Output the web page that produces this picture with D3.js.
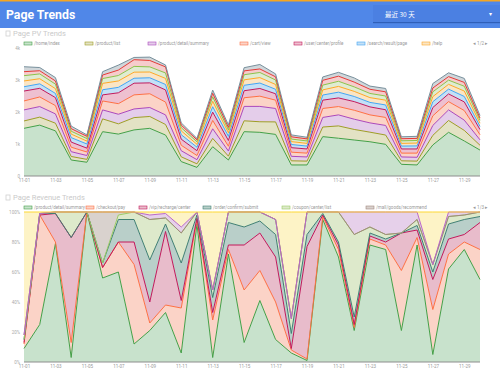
<!DOCTYPE html>
<html><head><meta charset="utf-8">
<script src="https://cdn.jsdelivr.net/npm/d3@7"></script>
<style>
html,body{margin:0;padding:0;background:#fff;width:500px;height:380px;overflow:hidden;font-family:Roboto,"Noto Sans",sans-serif}
</style></head><body>
<svg id="c" width="500" height="380"></svg>
<script>
// ---------- data ----------
const dates = ["11-01","11-02","11-03","11-04","11-05","11-06","11-07","11-08","11-09","11-10",
  "11-11","11-12","11-13","11-14","11-15","11-16","11-17","11-18","11-19","11-20",
  "11-21","11-22","11-23","11-24","11-25","11-26","11-27","11-28","11-29","11-30"];
const xTickLabels = dates.filter((d,i)=>i%2===0);

const pvNames = ["/home/index","/product/list","/product/detail/summary","/cart/view","/user/center/profile","/search/result/page","/help","/order/list","/news/detail","/about"];
const pvColors = ["#43a047","#9e9d24","#ab47bc","#ff7043","#c2185b","#42a5f5","#ffa726","#8bc34a","#e53935","#78909c"];
const pvFills  = ["#c8e2cc","#e3e2c4","#e4cdea","#fbd3c7","#eec0d0","#c4e0f6","#fbe5c4","#dfecd2","#f6cccc","#d0d7db"];
const pvHome    = [1490,1590,1410,500,430,1385,1310,1440,1490,1280,450,270,915,500,1385,1365,1300,345,345,1230,1180,1125,1070,990,365,345,970,1365,1095,810];
const pvList    = [230,250,240,110,90,400,320,385,370,330,150,110,260,120,340,330,390,130,120,300,385,330,300,290,110,120,300,370,330,150];
const pvDetail  = [345,330,290,150,120,280,300,270,280,300,190,130,300,160,450,480,420,140,130,300,345,320,290,300,120,120,310,330,320,170];
const pvCart    = [280,300,260,140,110,280,330,440,430,400,170,130,260,150,270,320,260,130,120,280,260,280,250,250,120,130,300,260,300,160];
const pvUser    = [310,270,250,160,120,190,340,365,340,380,190,150,260,180,220,240,200,140,130,260,270,270,250,240,130,130,260,240,270,160];
const pvSearch  = [135,140,130,140,130,160,170,155,160,170,140,110,170,130,170,170,140,100,90,160,180,160,140,150,90,95,180,150,170,100];
const pvHelp    = [180,160,150,110,90,200,200,190,180,190,120,90,170,110,170,170,150,90,85,160,180,160,150,150,85,90,160,150,170,100];
const pvOrder   = [165,150,140,90,80,150,170,180,160,170,100,80,140,90,160,160,140,80,75,150,160,140,130,130,80,80,150,130,150,90];
const pvNews    = [125,100,100,80,70,110,170,210,200,190,80,60,110,80,120,110,100,70,65,150,160,150,130,130,65,65,120,110,120,70];
const pvAbout   = [155,100,105,80,45,105,155,70,105,60,70,45,100,75,100,140,90,60,50,105,120,130,100,105,60,65,140,120,125,80];
const pvSeries = [pvHome,pvList,pvDetail,pvCart,pvUser,pvSearch,pvHelp,pvOrder,pvNews,pvAbout];
const pvTicks = [0,1000,2000,3000,4000];
const pvTickLabels = ["0","1k","2k","3k","4k"];

const revNames = ["/product/detail/summary","/checkout/pay","/vip/recharge/center","/order/confirm/submit","/coupon/center/list","/mall/goods/recommend","/live/room","/ads/landing"];
const revColors = ["#43a047","#ff7043","#c2185b","#3f7f73","#9ccc65","#a1887f","#ba68c8","#fdd835"];
const revFills  = ["#c8e2cc","#fbd3c7","#e8bccb","#b9cfc9","#dde9cb","#d9d2ce","#e6d0ea","#fdf3c6"];
const revA = [9,25,79,3,100,56,60,12,21,33,6,92,3,72,13,41,15,6,1,95,70,21,78,75,21,78,5,62,75,55];
const revB = [3,73,1,10,0,7,20,53,5,5,30,3,25,3,35,20,25,2,1,2,5,2,4,3,40,5,30,10,5,20];
const revC = [1,0,19,70,0,0,0,15,14,49,5,1,5,3,30,25,30,1,75,1,3,2,2,2,25,5,20,10,5,18];
const revD = [2,1,0,0,0,3,15,15,28,5,25,2,10,15,12,8,15,10,8,1,2,5,2,2,0,3,5,10,10,4];
const revE = [0,0,1,17,0,0,3,5,27,4,20,2,5,7,10,6,10,10,15,1,20,55,4,3,0,4,5,5,3,3];
const revF = [3,0,0,0,0,34,2,0,0,0,0,0,0,0,0,0,0,0,0,0,0,0,0,0,0,0,0,0,0,0];
const revG = [0,0,0,0,0,0,0,0,3,3,4,0,0,0,0,0,0,0,0,0,0,15,10,15,14,5,0,3,2,0];
const revH = [82,1,0,0,0,0,0,0,2,1,10,0,52,0,0,0,5,71,0,0,0,0,0,0,0,0,35,0,0,0];
const revSeries = [revA,revB,revC,revD,revE,revF,revG,revH];
const revTicks = [0,20,40,60,80,100];
const revTickLabels = ["0%","20%","40%","60%","80%","100%"];

// ---------- drawing ----------
const svg = d3.select("#c");
const font = 'Roboto,"Noto Sans",sans-serif';

// header
svg.append("rect").attr("x",0).attr("y",0).attr("width",500).attr("height",28).attr("fill","#5087e8");
svg.append("rect").attr("x",0).attr("y",0).attr("width",500).attr("height",1.5).attr("fill","#f5a623");
svg.append("text").attr("x",6).attr("y",19).attr("fill","#fff").attr("font-size",12.3).attr("font-weight",700)
  .attr("font-family",font).text("Page Trends");
svg.append("rect").attr("x",373).attr("y",5).attr("width",127).attr("height",17).attr("fill","#4b80e2");
svg.append("rect").attr("x",373).attr("y",22).attr("width",127).attr("height",1.2).attr("fill","#2f5fb8");
svg.append("text").attr("x",385).attr("y",16.5).attr("fill","#fff").attr("font-size",6.5)
  .attr("font-family",'"Noto Sans CJK SC",sans-serif').text("最近 30 天");
svg.append("text").attr("x",489).attr("y",16).attr("fill","#fff").attr("font-size",6).text("▾");

const x = d3.scalePoint().domain(dates).range([24,480]);

function drawChart(opt){
  const g = svg.append("g");
  // section title
  g.append("rect").attr("x",6).attr("y",opt.titleY-5).attr("width",4).attr("height",5).attr("fill","none")
   .attr("stroke","#d0d0d0").attr("stroke-width",0.8);
  g.append("text").attr("x",13).attr("y",opt.titleY).attr("fill","#cacaca").attr("font-size",7.5)
   .attr("font-family",font).text(opt.title);
  // legend
  opt.legendX.forEach((lx,i)=>{
    g.append("rect").attr("x",lx).attr("y",opt.legendY-1.5).attr("width",8).attr("height",3)
     .attr("fill",opt.fills[i]).attr("stroke",opt.colors[i]).attr("stroke-width",0.6);
    g.append("text").attr("x",lx+10).attr("y",opt.legendY+1.6).attr("fill","#999").attr("font-size",4.5)
     .attr("font-family",font).text(opt.names[i]);
  });
  g.append("text").attr("x",473).attr("y",opt.legendY+1.6).attr("fill","#999").attr("font-size",4.5)
   .attr("font-family",font).text(opt.pager);

  const y = d3.scaleLinear().domain(opt.domain).range([opt.y0,opt.y1]);
  const table = dates.map((d,i)=>{ const o={date:d}; opt.series.forEach((s,k)=>o["s"+k]=s[i]); return o;});
  const keys = opt.series.map((s,k)=>"s"+k);
  const stack = d3.stack().keys(keys)(table);
  const area = d3.area().x(d=>x(d.data.date)).y0(d=>y(d[0])).y1(d=>y(d[1]));
  const line = d3.line().x(d=>x(d.data.date)).y(d=>y(d[1]));
  stack.forEach((layer,k)=>{
    g.append("path").datum(layer).attr("d",area).attr("fill",opt.fills[k]);
  });
  stack.forEach((layer,k)=>{
    g.append("path").datum(layer).attr("d",line).attr("fill","none").attr("stroke",opt.colors[k]).attr("stroke-width",1);
  });
  // axes
  const xa = d3.axisBottom(x).tickValues(xTickLabels).tickSize(0).tickPadding(3);
  const xg = g.append("g").attr("transform",`translate(0,${opt.y0})`).call(xa);
  xg.select(".domain").attr("stroke","#8d8d8d").attr("stroke-width",1.2).attr("d","M24,0H480");
  xg.selectAll("text").attr("font-size",4.5).attr("fill","#999").attr("font-family",font);
  const ya = d3.axisLeft(y).tickValues(opt.ticks).tickFormat((d,i)=>opt.tickLabels[i]).tickSize(0).tickPadding(4);
  const yg = g.append("g").attr("transform","translate(24,0)").call(ya);
  yg.select(".domain").remove();
  yg.selectAll("text").attr("font-size",4.5).attr("fill","#aaa").attr("font-family",font);
}

drawChart({title:"Page PV Trends",titleY:36,legendY:43.5,
  legendX:[24,85,148,240,294,357,422],pager:"◂ 1/2 ▸",
  names:pvNames,colors:pvColors,fills:pvFills,series:pvSeries,
  domain:[0,4000],y0:176,y1:48,ticks:pvTicks,tickLabels:pvTickLabels});

drawChart({title:"Page Revenue Trends",titleY:200,legendY:207.5,
  legendX:[24,86,139,203,282,366],pager:"◂ 1/3 ▸",
  names:revNames,colors:revColors,fills:revFills,series:revSeries,
  domain:[0,100],y0:362,y1:212,ticks:revTicks,tickLabels:revTickLabels});
</script>
</body></html>
